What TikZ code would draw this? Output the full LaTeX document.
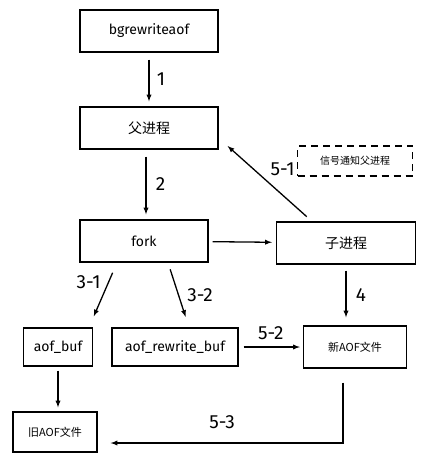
\documentclass[tikz,border=0pt]{standalone}
\usepackage{fontspec}
\setmainfont{Fira Sans}
\newfontfamily\cjk{Noto Sans CJK SC}
\begin{document}
\begin{tikzpicture}[>=latex,x=1pt,y=-1pt,line width=1.3pt,
	box/.style={draw,minimum height=42pt,inner sep=0pt,font=\fontsize{14}{16}\selectfont},
	lbl/.style={font=\fontsize{19}{21}\selectfont},
	gap/.style={shorten <=7pt,shorten >=5pt}]
	\useasboundingbox (0,0) rectangle (428,464);
	% boxes
	\node[box,minimum width=138pt] (bg) at (149,31) {bgrewriteaof};
	\node[box,minimum width=138pt] (father) at (149,128) {\cjk 父进程};
	\node[box,minimum width=128pt] (fork) at (144,241) {fork};
	\node[box,minimum width=139pt] (child) at (346,243) {\cjk 子进程};
	\node[box,minimum width=69pt,minimum height=38pt] (abuf) at (58,347) {aof\_buf};
	\node[box,minimum width=126pt,minimum height=38pt] (rbuf) at (175,347) {aof\_rewrite\_buf};
	\node[box,minimum width=103pt,font=\cjk\fontsize{11}{13}\selectfont] (newaof) at (355,347) {新AOF文件};
	\node[box,minimum width=84pt,minimum height=40pt,font=\cjk\fontsize{11}{13}\selectfont] (oldaof) at (55,432) {旧AOF文件};
	\node[draw,dashed,dash pattern=on 7pt off 5pt,minimum width=115pt,minimum height=30pt,inner sep=0pt,font=\cjk\fontsize{10}{12}\selectfont] (signal) at (355,161) {信号通知父进程};
	% arrows
	\draw[->,gap] (bg)--node[lbl,right=4pt]{1}(father);
	\draw[->,gap] ([xshift=-3pt]father.south)--node[lbl,right=6pt]{2}([xshift=2pt]fork.north);
	\draw[->,shorten <=4pt,shorten >=4pt] (fork)--(child);
	\draw[->,shorten <=7pt,shorten >=12pt] ([xshift=-34pt]child.north)--node[lbl,pos=0.4,anchor=south west,yshift=8pt,xshift=-8pt]{5-1}([yshift=-10pt]father.east);
	\draw[->,shorten <=11pt,shorten >=12pt] ([xshift=-27pt]fork.south)--node[lbl,pos=0.3,left=4pt]{3-1}([xshift=31pt]abuf.north);
	\draw[->,shorten <=7pt,shorten >=11pt] ([xshift=24pt]fork.south)--node[lbl,pos=0.5,right=5pt]{3-2}([xshift=14pt]rbuf.north);
	\draw[->,shorten <=6pt,shorten >=8pt] (child)--node[lbl,right=6pt]{4}([xshift=-9pt]newaof.north);
	\draw[->,shorten <=5pt,shorten >=3pt] (rbuf)--node[lbl,above=3pt,pos=0.5]{5-2}(newaof);
	\draw[->,shorten <=4pt,shorten >=4pt] (abuf)--(abuf|-oldaof.north);
	\draw[->,shorten <=14pt] ([xshift=-12pt]newaof.south)|-node[lbl,pos=0.76,above=10pt]{5-3}([xshift=13pt,yshift=-11pt]oldaof.east);
\end{tikzpicture}
\end{document}
